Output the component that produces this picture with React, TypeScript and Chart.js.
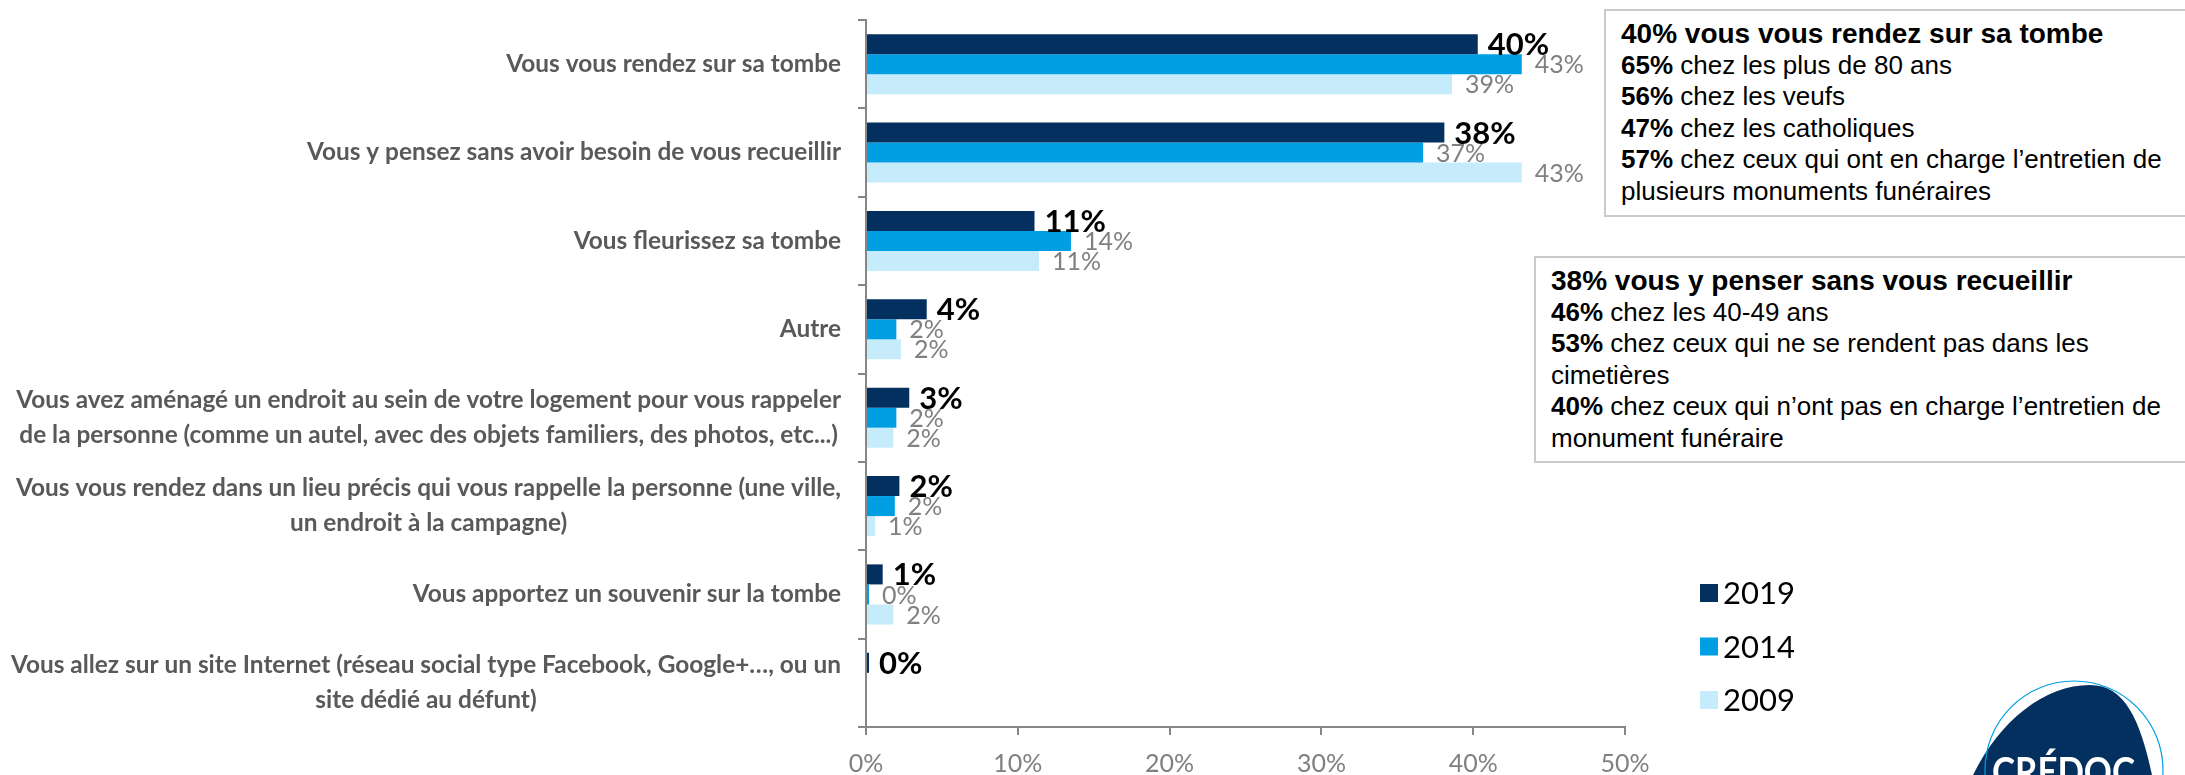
import React, { useEffect, useRef } from "react";
import { Chart, registerables } from "chart.js";

Chart.register(...registerables);

const categories: string[][] = [
  ["Vous vous rendez sur sa tombe"],
  ["Vous y pensez sans avoir besoin de vous recueillir"],
  ["Vous fleurissez sa tombe"],
  ["Autre"],
  [
    "Vous avez aménagé un endroit au sein de votre logement pour vous rappeler",
    "de la personne (comme un autel, avec des objets familiers, des photos, etc...)",
  ],
  [
    "Vous vous rendez dans un lieu précis qui vous rappelle la personne (une ville,",
    "un endroit à la campagne)",
  ],
  ["Vous apportez un souvenir sur la tombe"],
  [
    "Vous allez sur un site Internet (réseau social type Facebook, Google+…, ou un",
    "site dédié au défunt)",
  ],
];

const seriesNames = ["2019", "2014", "2009"];
const values2019: (number | null)[] = [40.3, 38.1, 11.1, 4.0, 2.85, 2.2, 1.1, 0.2];
const values2014: (number | null)[] = [43.2, 36.7, 13.5, 2.0, 2.0, 1.9, 0.2, null];
const values2009: (number | null)[] = [38.6, 43.2, 11.4, 2.3, 1.8, 0.6, 1.8, null];
const xTickValues = [0, 10, 20, 30, 40, 50];

const box1Title = "40% vous vous rendez sur sa tombe";
const box1Lines: [string, string][] = [
  ["65%", " chez les plus de 80 ans"],
  ["56%", " chez les veufs"],
  ["47%", " chez les catholiques"],
  ["57%", " chez ceux qui ont en charge l\u2019entretien de"],
  ["", "plusieurs monuments funéraires"],
];
const box2Title = "38% vous y penser sans vous recueillir";
const box2Lines: [string, string][] = [
  ["46%", " chez les 40-49 ans"],
  ["53%", " chez ceux qui ne se rendent pas dans les"],
  ["", "cimetières"],
  ["40%", " chez ceux qui n\u2019ont pas en charge l\u2019entretien de"],
  ["", "monument funéraire"],
];

const COLORS = ["#03305f", "#009fe3", "#c6ebfb"];
const LABEL_FONT = "Lato";

function Box(props: { left: number; top: number; height: number; title: string; lines: [string, string][] }) {
  return (
    <div
      style={{
        position: "absolute",
        left: props.left,
        top: props.top,
        height: props.height,
        width: 700,
        boxSizing: "border-box",
        border: "2px solid #cacaca",
        background: "#fff",
        padding: "7px 0 0 15px",
        fontFamily: "'Liberation Sans', Arial, sans-serif",
        fontSize: 26,
        lineHeight: "31.6px",
        color: "#000",
        whiteSpace: "nowrap",
      }}
    >
      <div style={{ fontWeight: "bold", fontSize: 28 }}>{props.title}</div>
      {props.lines.map((l, i) => (
        <div key={i}>
          {l[0] ? <b>{l[0]}</b> : null}
          {l[1]}
        </div>
      ))}
    </div>
  );
}

export default function App() {
  const ref = useRef<HTMLCanvasElement>(null);

  useEffect(() => {
    const canvas = ref.current;
    if (!canvas) return;

    const catLabelPlugin = {
      id: "catLabels",
      afterDraw(chart: any) {
        const ctx = chart.ctx;
        const y = chart.scales.y;
        ctx.save();
        ctx.font = `bold 24.4px ${LABEL_FONT}`;
        ctx.fillStyle = "#595959";
        ctx.textBaseline = "middle";
        ctx.textAlign = "center";
        const right = chart.chartArea.left - 25;
        const lh = 35;
        categories.forEach((lines, i) => {
          const cy = y.getPixelForValue(i);
          const maxW = Math.max(...lines.map((l) => ctx.measureText(l).width));
          const cx = right - maxW / 2;
          lines.forEach((l, j) => {
            ctx.fillText(l, cx, cy + (j - (lines.length - 1) / 2) * lh);
          });
        });
        ctx.restore();
      },
    };

    const dataLabelPlugin = {
      id: "dataLabels",
      afterDatasetsDraw(chart: any) {
        const ctx = chart.ctx;
        ctx.save();
        ctx.textAlign = "left";
        ctx.textBaseline = "middle";
        chart.data.datasets.forEach((ds: any, di: number) => {
          const meta = chart.getDatasetMeta(di);
          meta.data.forEach((el: any, i: number) => {
            const v = ds.data[i];
            if (v === null || v === undefined) return;
            ctx.font = di === 0 ? `bold 31px ${LABEL_FONT}` : `25px ${LABEL_FONT}`;
            ctx.fillStyle = di === 0 ? "#000000" : "#808080";
            ctx.fillText(Math.round(v) + "%", el.x + (di === 0 ? 10 : 13), el.y + 1);
          });
        });
        ctx.restore();
      },
    };

    const legendPlugin = {
      id: "customLegend",
      afterDraw(chart: any) {
        const ctx = chart.ctx;
        ctx.save();
        ctx.textAlign = "left";
        ctx.textBaseline = "middle";
        ctx.font = `31px ${LABEL_FONT}`;
        chart.data.datasets.forEach((ds: any, di: number) => {
          const cy = 593 + di * 53.5;
          ctx.fillStyle = ds.backgroundColor;
          ctx.fillRect(1700, cy - 9, 18, 18);
          ctx.fillStyle = "#000";
          ctx.fillText(ds.label, 1723, cy + 1);
        });
        ctx.restore();
      },
    };

    const chart = new Chart(canvas, {
      type: "bar",
      data: {
        labels: categories.map((c) => c.join(" ")),
        datasets: [
          { label: seriesNames[0], data: values2019, backgroundColor: COLORS[0] },
          { label: seriesNames[1], data: values2014, backgroundColor: COLORS[1] },
          { label: seriesNames[2], data: values2009, backgroundColor: COLORS[2] },
        ],
      },
      options: {
        indexAxis: "y",
        responsive: false,
        animation: false,
        layout: { padding: { top: 20, right: 560, left: 0, bottom: 0 } },
        datasets: {
          bar: { categoryPercentage: 0.68, barPercentage: 1.0 },
        },
        plugins: {
          legend: { display: false },
          tooltip: { enabled: false },
          title: { display: false },
        },
        scales: {
          y: {
            type: "category",
            offset: true,
            grid: {
              display: true,
              offset: true,
              drawOnChartArea: false,
              drawTicks: true,
              tickLength: 8,
              color: "#868686",
              lineWidth: 2,
            },
            border: { display: true, color: "#868686", width: 2 },
            ticks: { display: false },
            afterFit: (scale: any) => {
              scale.width = 866;
            },
          },
          x: {
            type: "linear",
            min: 0,
            max: 50,
            afterBuildTicks: (scale: any) => {
              scale.ticks = xTickValues.map((v) => ({ value: v }));
            },
            grid: {
              display: true,
              drawOnChartArea: false,
              drawTicks: true,
              tickLength: 8,
              color: "#868686",
              lineWidth: 2,
            },
            border: { display: true, color: "#868686", width: 2 },
            ticks: {
              color: "#808080",
              font: { family: LABEL_FONT, size: 25 },
              padding: 14,
              callback: (v: any) => v + "%",
            },
            afterFit: (scale: any) => {
              scale.height = 48;
            },
          },
        },
      },
      plugins: [catLabelPlugin, dataLabelPlugin, legendPlugin],
    } as any);

    return () => chart.destroy();
  }, []);

  return (
    <div
      style={{
        position: "fixed",
        left: 0,
        top: 0,
        width: 2185,
        height: 775,
        overflow: "hidden",
        background: "#fff",
      }}
    >
      <canvas ref={ref} width={2185} height={775} style={{ position: "absolute", left: 0, top: 0, width: 2185, height: 775 }} />
      <Box left={1604} top={9} height={208} title={box1Title} lines={box1Lines} />
      <Box left={1534} top={256} height={207} title={box2Title} lines={box2Lines} />
      <svg
        width={245}
        height={135}
        viewBox="0 0 245 135"
        style={{ position: "absolute", left: 1940, top: 640 }}
      >
        <path d="M 33 135 C 60 80, 105 45, 150 45 C 185 45, 200 80, 212 135 Z" fill="#03305f" />
        <circle cx={134} cy={130} r={89} fill="none" stroke="#009fe3" strokeWidth={1.2} />
        <text
          x={52}
          y={146}
          fill="#ffffff"
          fontFamily="Lato, 'Open Sans', sans-serif"
          fontWeight="bold"
          fontSize={40}
          textLength={143}
          lengthAdjust="spacingAndGlyphs"
        >
          CRÉDOC
        </text>
      </svg>
    </div>
  );
}
